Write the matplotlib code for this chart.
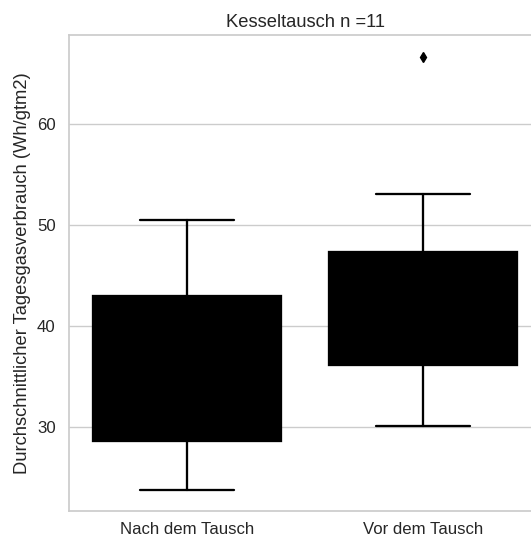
import matplotlib
matplotlib.use("Agg")
import matplotlib.pyplot as plt
import seaborn as sns

categories = ["Nach dem Tausch", "Vor dem Tausch"]
q1 = [28.6, 36.1]
q3 = [43.0, 47.3]
medians = [35.5, 42.0]
whisker_low = [23.8, 30.1]
whisker_high = [50.5, 53.1]
outliers = [[], [66.6]]

sns.set_theme(style="whitegrid")
plt.rcParams['font.family'] = ['Liberation Sans', 'DejaVu Sans']

fig = plt.figure(figsize=(5.31, 5.37), dpi=100)
ax = fig.add_axes([69/531, (537-511)/537, (541-69)/531, (511-35)/537])

stats = []
for i, c in enumerate(categories):
    stats.append(dict(label=c, q1=q1[i], q3=q3[i], med=medians[i],
                      whislo=whisker_low[i], whishi=whisker_high[i],
                      fliers=outliers[i]))

lw = 1.65
ax.bxp(stats, positions=range(len(categories)), widths=0.8, patch_artist=True,
       boxprops=dict(facecolor="black", edgecolor="black", linewidth=lw),
       whiskerprops=dict(color="black", linewidth=lw),
       capprops=dict(color="black", linewidth=lw),
       medianprops=dict(color="black", linewidth=lw),
       flierprops=dict(marker="d", markerfacecolor="black", markeredgecolor="black",
                       markersize=5.5, linestyle="none"),
       manage_ticks=False)

ax.set_xticks(range(len(categories)))
ax.set_xticklabels(categories, fontsize=12.1, color="#262626")
ax.tick_params(axis="x", pad=2)
ax.set_xlim(-0.5, 1.5)
ax.set_ylim(21.7, 68.8)
ax.set_yticks([30, 40, 50, 60])
ax.tick_params(axis="y", labelsize=12.1, colors="#262626")
ax.xaxis.grid(False)
ax.yaxis.grid(True, color="#cccccc", linewidth=1.0)
for s in ax.spines.values():
    s.set_color("#cccccc")
    s.set_linewidth(1.25)
ax.set_ylabel("Durchschnittlicher Tagesgasverbrauch (Wh/gtm2)", fontsize=13.2, color="#262626")
ax.set_title("Kesseltausch n =11", fontsize=13.2, color="#262626")

fig.savefig("out.png", dpi=100)
